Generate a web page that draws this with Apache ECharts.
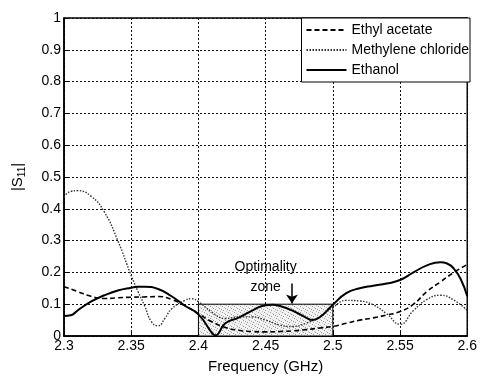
<!DOCTYPE html>
<html>
<head>
<meta charset="utf-8">
<script src="https://cdn.jsdelivr.net/npm/echarts@6/dist/echarts.min.js"></script>
<style>html,body{margin:0;padding:0;background:#fff;}#c{width:480px;height:379px;}</style>
</head>
<body>
<div id="c"></div>
<script>
const xTicks = ['2.3','2.35','2.4','2.45','2.5','2.55','2.6'];
const yTicks = ['0','0.1','0.2','0.3','0.4','0.5','0.6','0.7','0.8','0.9','1'];

const fEthyl = [2.3,2.31,2.32,2.33,2.34,2.35,2.36,2.37,2.38,2.39,2.4,2.41,2.42,2.43,2.44,2.45,2.46,2.47,2.48,2.49,2.5,2.51,2.52,2.53,2.54,2.55,2.56,2.57,2.58,2.59,2.6];
const vEthyl = [0.155,0.14,0.125,0.118,0.12,0.122,0.123,0.124,0.115,0.095,0.07,0.045,0.027,0.018,0.014,0.013,0.014,0.016,0.02,0.025,0.03,0.04,0.05,0.057,0.066,0.077,0.1,0.14,0.17,0.2,0.225];

const fMeth = [2.3,2.305,2.31,2.32,2.33,2.34,2.35,2.355,2.36,2.365,2.37,2.375,2.38,2.39,2.395,2.4,2.41,2.42,2.43,2.44,2.45,2.46,2.47,2.48,2.49,2.5,2.51,2.52,2.53,2.54,2.55,2.56,2.57,2.58,2.59,2.6];
const vMeth = [0.437,0.455,0.457,0.44,0.39,0.3,0.19,0.14,0.095,0.045,0.032,0.055,0.085,0.112,0.117,0.108,0.075,0.055,0.06,0.06,0.05,0.035,0.03,0.04,0.06,0.09,0.112,0.11,0.098,0.07,0.037,0.08,0.115,0.128,0.113,0.08];

const fEth = [2.3,2.305,2.31,2.32,2.33,2.34,2.35,2.355,2.36,2.37,2.38,2.39,2.4,2.41,2.4125,2.42,2.43,2.44,2.45,2.455,2.46,2.47,2.48,2.485,2.49,2.5,2.51,2.52,2.53,2.54,2.55,2.56,2.57,2.58,2.585,2.59,2.595,2.6];
const vEth = [0.063,0.065,0.08,0.108,0.128,0.143,0.152,0.155,0.155,0.148,0.125,0.095,0.068,0.01,0.002,0.04,0.058,0.08,0.097,0.098,0.095,0.08,0.058,0.05,0.058,0.098,0.135,0.15,0.158,0.165,0.176,0.2,0.222,0.232,0.228,0.212,0.18,0.125];

const zoneX = [2.4, 2.5];
const zoneY = [0, 0.1];
const arrowX = 2.4696;
const arrowY = [0.165, 0.102];
const zoneLabelPos = [2.45, 0.186];

const pairs = (f, v) => f.map((x, i) => [x, v[i]]);
const FONT = 'Liberation Sans';

// stipple pattern for the shaded zone (style only)
const pat = document.createElement('canvas');
pat.width = 6; pat.height = 6;
(function () {
  const g = pat.getContext('2d');
  g.fillStyle = '#f2f2f2'; g.fillRect(0, 0, 6, 6);
  g.fillStyle = '#9a9a9a';
  g.fillRect(0, 0, 1, 1); g.fillRect(3, 2, 1, 1); g.fillRect(1, 4, 1, 1); g.fillRect(5, 3, 1, 1);
  g.fillStyle = '#c4c4c4';
  g.fillRect(4, 5, 1, 1); g.fillRect(2, 1, 1, 1);
})();

const chart = echarts.init(document.getElementById('c'), null, {renderer: 'canvas'});
chart.setOption({
  animation: false,
  backgroundColor: '#fff',
  textStyle: {fontFamily: FONT, color: '#000'},
  grid: {left: 64, right: 10, top: 18, bottom: 38, show: true, borderColor: '#000', borderWidth: 1.5, backgroundColor: 'transparent'},
  legend: {
    data: ['Ethyl acetate', 'Methylene chloride', 'Ethanol'],
    orient: 'vertical', right: 10, top: 18,
    backgroundColor: '#fff', borderColor: '#000', borderWidth: 1, borderRadius: 0,
    padding: [5, 1, 5, 4], itemGap: 6, itemWidth: 40, itemHeight: 14,
    itemStyle: {opacity: 0},
    textStyle: {fontFamily: FONT, fontSize: 14, color: '#000'}
  },
  xAxis: {
    type: 'value', min: 2.3, max: 2.6, interval: 0.05,
    name: 'Frequency (GHz)', nameLocation: 'middle', nameGap: 23,
    nameTextStyle: {fontFamily: FONT, fontSize: 15, color: '#000'},
    axisLine: {show: true, lineStyle: {color: '#000', width: 1.5}},
    axisTick: {show: true, inside: true, length: 4, lineStyle: {color: '#000'}},
    axisLabel: {fontFamily: FONT, fontSize: 14, color: '#000', margin: 3,
      formatter: (v) => { const i = Math.round((v - 2.3) / 0.05); return xTicks[i] || ''; }},
    splitLine: {show: true, lineStyle: {color: '#111', width: 1, type: [2, 2]}}
  },
  yAxis: {
    type: 'value', min: 0, max: 1, interval: 0.1,
    name: '|S{sub|11}|', nameLocation: 'middle', nameGap: 37, nameRotate: 90,
    nameTextStyle: {fontFamily: FONT, fontSize: 15, color: '#000',
      rich: {sub: {fontFamily: FONT, fontSize: 10, color: '#000', padding: [8, 0, 0, 0]}}},
    axisLine: {show: true, lineStyle: {color: '#000', width: 1.5}},
    axisTick: {show: true, inside: true, length: 4, lineStyle: {color: '#000'}},
    axisLabel: {fontFamily: FONT, fontSize: 14, color: '#000', margin: 3,
      formatter: (v) => { const i = Math.round(v / 0.1); return yTicks[i] || ''; }},
    splitLine: {show: true, lineStyle: {color: '#111', width: 1, type: [2, 2]}}
  },
  series: [
    {
      name: 'zone', type: 'line', data: [], z: 1, silent: true,
      markArea: {
        silent: true,
        itemStyle: {color: {image: pat, repeat: 'repeat'}, borderColor: '#000', borderWidth: 1},
        data: [[{coord: [zoneX[0], zoneY[0]]}, {coord: [zoneX[1], zoneY[1]]}]]
      },
      markLine: {
        silent: true, symbol: ['none', 'arrow'], symbolSize: 9,
        label: {show: false},
        lineStyle: {color: '#000', width: 1.5, type: 'solid'},
        data: [[{coord: [arrowX, arrowY[0]]}, {coord: [arrowX, arrowY[1]]}]]
      },
      markPoint: {
        silent: true, symbol: 'circle', symbolSize: 0,
        label: {show: true, position: 'inside', formatter: 'Optimality\nzone', fontFamily: FONT, fontSize: 14, color: '#000', lineHeight: 20, align: 'center'},
        data: [{coord: zoneLabelPos}]
      }
    },
    {
      name: 'Ethyl acetate', type: 'line', z: 3, symbol: 'none', smooth: 0.5,
      data: pairs(fEthyl, vEthyl),
      lineStyle: {color: '#000', width: 1.6, type: [5, 3]}, itemStyle: {color: '#000'}
    },
    {
      name: 'Methylene chloride', type: 'line', z: 3, symbol: 'none', smooth: 0.5,
      data: pairs(fMeth, vMeth),
      lineStyle: {color: '#333', width: 1.4, type: [1.5, 1.5]}, itemStyle: {color: '#333'}
    },
    {
      name: 'Ethanol', type: 'line', z: 3, symbol: 'none', smooth: 0.5,
      data: pairs(fEth, vEth),
      lineStyle: {color: '#000', width: 2}, itemStyle: {color: '#000'}
    }
  ]
});
</script>
</body>
</html>
